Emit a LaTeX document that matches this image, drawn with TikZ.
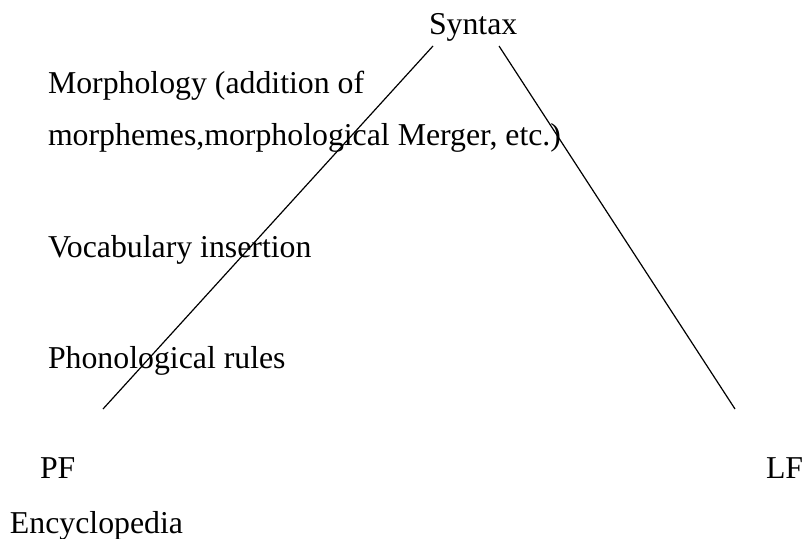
\documentclass[tikz,border=0pt]{standalone}
\usepackage{fontspec}
\setmainfont{Liberation Serif}
\begin{document}
\begin{tikzpicture}[x = .5pt, y = -.5pt,
        lbl/.style = {anchor = base west, inner sep = 0pt, outer sep = 0pt, font = \fontsize{15.9}{19}\selectfont},
        branch/.style = {line width = .6pt, black}]
    \useasboundingbox (0, 0) rectangle (807, 539);
    \node[lbl] (syntax) at (429, 35) {Syntax};
    \node[lbl] (morph1) at (48, 94) {Morphology (addition of};
    \node[lbl] (morph2) at (48, 146) {morphemes,morphological Merger, etc.)};
    \node[lbl] (vocab) at (48, 258) {Vocabulary insertion};
    \node[lbl] (phon) at (48, 368) {Phonological rules};
    \node[lbl] (pf) at (40, 478) {PF};
    \node[lbl] (lf) at (766, 478) {LF};
    \node[lbl] (ency) at (10, 533) {Encyclopedia};

    \coordinate (synL) at (433, 46);
    \coordinate (synR) at (499, 46);
    \coordinate (pfEnd) at (103, 409);
    \coordinate (lfEnd) at (735, 409);
    \draw[branch] (synL) -- (pfEnd);
    \draw[branch] (synR) -- (lfEnd);
\end{tikzpicture}
\end{document}
